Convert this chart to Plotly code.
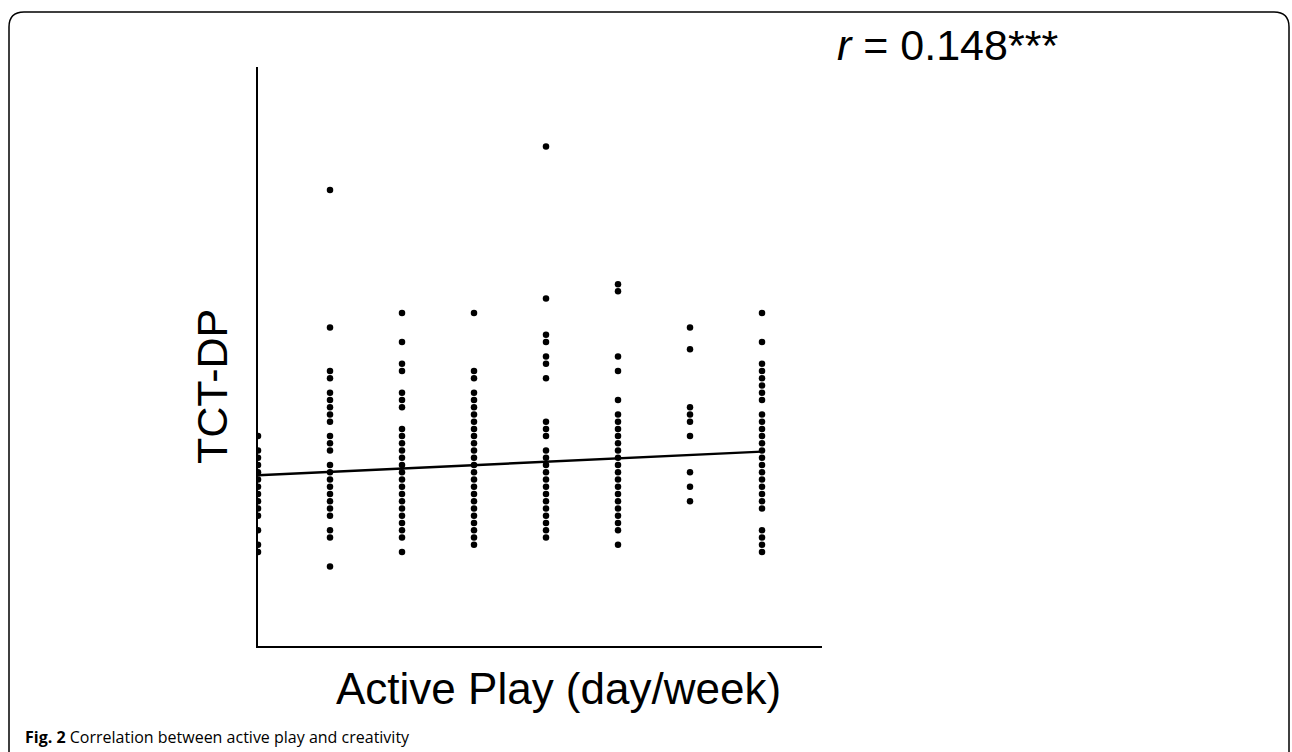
import plotly.graph_objects as go

# ---- data (TCT-DP scores by active-play days per week) ----
days = [0, 1, 2, 3, 4, 5, 6, 7]
scores_by_day = {
    0: [29, 27, 26, 25, 24, 23, 22, 21, 20, 19, 18, 16, 14, 13],
    1: [63, 44, 38, 37, 35, 34, 33, 32, 31, 29, 28, 27, 25, 24, 23, 22, 21, 20, 19, 18, 16, 15, 11],
    2: [46, 42, 39, 38, 35, 34, 33, 30, 29, 28, 27, 26, 25, 24, 23, 22, 21, 20, 19, 18, 17, 16, 15, 13],
    3: [46, 38, 37, 35, 34, 33, 32, 31, 30, 29, 28, 27, 26, 25, 24, 23, 22, 21, 20, 19, 18, 17, 16, 15, 14],
    4: [69, 48, 43, 42, 40, 39, 37, 31, 30, 29, 27, 26, 25, 24, 23, 22, 21, 20, 19, 18, 17, 16, 15],
    5: [50, 49, 40, 38, 34, 32, 31, 30, 29, 28, 27, 26, 25, 24, 23, 22, 21, 20, 19, 18, 17, 16, 14],
    6: [44, 41, 33, 32, 31, 29, 24, 22, 20],
    7: [46, 42, 39, 38, 37, 36, 35, 34, 32, 31, 30, 29, 28, 27, 26, 25, 24, 23, 22, 21, 20, 19, 16, 15, 14, 13],
}
fit_x = [0, 7]
fit_y = [23.6, 26.85]
r_label = "<i>r</i> = 0.148***"
x_title = "Active Play (day/week)"
y_title = "TCT-DP"
caption_bold = "Fig. 2"
caption_text = " Correlation between active play and creativity"

xs, ys = [], []
for d in days:
    for s in scores_by_day[d]:
        xs.append(d)
        ys.append(s)

# ---- layout geometry (pixels) ----
W, H = 1292, 752
L, R, T, B = 258, 822, 67, 646


def px(x):
    return (x - L) / (R - L)


def py(y):
    return (B - y) / (B - T)


fig = go.Figure()
fig.add_trace(go.Scatter(x=xs, y=ys, mode="markers",
                         marker=dict(size=6.5, color="black"),
                         showlegend=False, hoverinfo="skip"))
fig.add_trace(go.Scatter(x=fit_x, y=fit_y, mode="lines",
                         line=dict(color="black", width=2.4),
                         showlegend=False, hoverinfo="skip"))

rad = 15
fx0, fx1, fy0 = 9, 1289, 12
path = (f"M {px(fx0)},{py(H + 5)} L {px(fx0)},{py(fy0 + rad)} "
        f"Q {px(fx0)},{py(fy0)} {px(fx0 + rad)},{py(fy0)} "
        f"L {px(fx1 - rad)},{py(fy0)} "
        f"Q {px(fx1)},{py(fy0)} {px(fx1)},{py(fy0 + rad)} "
        f"L {px(fx1)},{py(H + 5)}")

fig.update_layout(
    width=W, height=H,
    margin=dict(l=L, r=W - R, t=T, b=H - B),
    paper_bgcolor="white", plot_bgcolor="white",
    xaxis=dict(range=[0, (R - L) / 72.0], showgrid=False, zeroline=False,
               showticklabels=False, ticks="", showline=True,
               linecolor="black", linewidth=2),
    yaxis=dict(range=[0, 80], showgrid=False, zeroline=False,
               showticklabels=False, ticks="", showline=True,
               linecolor="black", linewidth=2),
    shapes=[dict(type="path", path=path, xref="paper", yref="paper",
                 line=dict(color="black", width=1.5), layer="below")],
    annotations=[
        dict(text=x_title, xref="paper", yref="paper", x=px(558), y=py(688),
             xanchor="center", yanchor="middle", showarrow=False,
             font=dict(family="Liberation Sans", size=44, color="black")),
        dict(text=y_title, xref="paper", yref="paper", x=px(212), y=py(387),
             xanchor="center", yanchor="middle", showarrow=False, textangle=-90,
             font=dict(family="Liberation Sans", size=43, color="black")),
        dict(text=r_label, xref="paper", yref="paper", x=px(835), y=py(45),
             xanchor="left", yanchor="middle", showarrow=False,
             font=dict(family="Liberation Sans", size=43, color="black")),
        dict(text=f"<b>{caption_bold}</b>{caption_text}", xref="paper", yref="paper",
             x=px(23), y=py(737), xanchor="left", yanchor="middle", showarrow=False,
             font=dict(family="Open Sans", size=16, color="black")),
    ],
)

fig.write_html("out.html", config={"displayModeBar": False},
               post_script="document.body.style.margin='0px';document.body.style.overflow='hidden';")
